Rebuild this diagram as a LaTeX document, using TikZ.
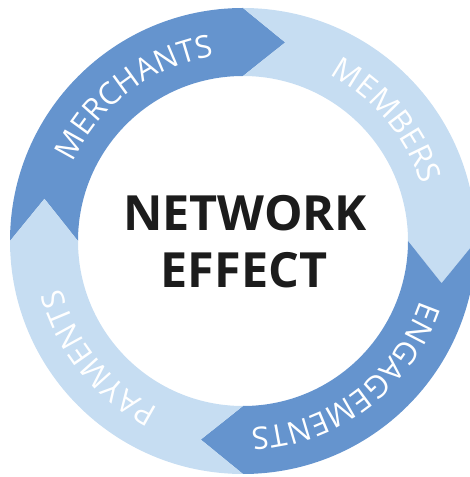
\documentclass[tikz,border=0pt]{standalone}
\usepackage{fontspec}
\setmainfont{Open Sans}
\usetikzlibrary{decorations.text}
\definecolor{darkseg}{HTML}{6594CE}
\definecolor{lightseg}{HTML}{C6DDF2}
\definecolor{titletext}{HTML}{1C1C1C}
\tikzset{
  ringtext/.style={decorate, decoration={text along path, text align=center,
    text={|\color{white}\fontsize{31}{31}\selectfont|#1}}},
  titlenode/.style={anchor=base, inner sep=0pt, text=titletext,
    font=\fontsize{48.5}{48.5}\selectfont\bfseries}
}
\begin{document}
\begin{tikzpicture}[x=1pt,y=1pt]
\useasboundingbox (0,0) rectangle (470,477);
\clip (0,0) rectangle (470,477);
\begin{scope}[shift={(243,236)}]
  % ring segments: tail notch at start angle, head tip 12 deg beyond end angle
  \fill[darkseg] (180:233pt) arc[start angle=180,end angle=90,radius=233pt]
     -- (78:203pt) -- (90:165pt) arc[start angle=90,end angle=180,radius=165pt]
     -- (168:203pt) -- cycle;
  \fill[lightseg] (90:233pt) arc[start angle=90,end angle=0,radius=233pt]
     -- (-12:203pt) -- (0:165pt) arc[start angle=0,end angle=90,radius=165pt]
     -- (78:203pt) -- cycle;
  \fill[darkseg] (0:233pt) arc[start angle=0,end angle=-90,radius=233pt]
     -- (-102:203pt) -- (-90:165pt) arc[start angle=-90,end angle=0,radius=165pt]
     -- (-12:203pt) -- cycle;
  \fill[lightseg] (-90:233pt) arc[start angle=-90,end angle=-180,radius=233pt]
     -- (-192:203pt) -- (-180:165pt) arc[start angle=-180,end angle=-90,radius=165pt]
     -- (-102:203pt) -- cycle;
  % ring labels
  \path[ringtext=MERCHANTS] (172:187pt) arc[start angle=172,end angle=82,radius=187pt];
  \path[ringtext=MEMBERS] (85:187pt) arc[start angle=85,end angle=-5,radius=187pt];
  \path[ringtext=ENGAGEMENTS] (-8:187pt) arc[start angle=-8,end angle=-98,radius=187pt];
  \path[ringtext=PAYMENTS] (-96:187pt) arc[start angle=-96,end angle=-186,radius=187pt];
\end{scope}
\node[titlenode] (net) at (245,246) {NETWORK};
\node[titlenode] (eff) at (244,189) {EFFECT};
\end{tikzpicture}
\end{document}
